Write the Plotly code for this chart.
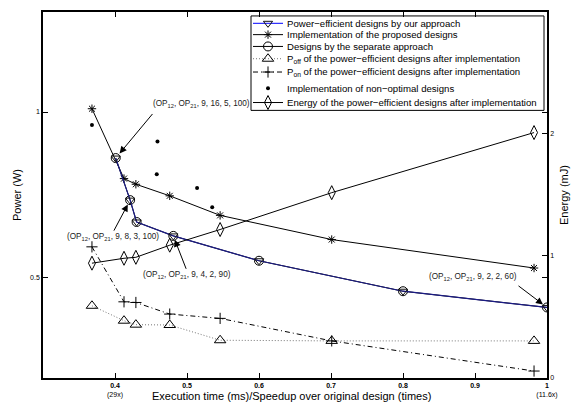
import plotly.graph_objects as go

# ---------------- data ----------------
# Power-efficient designs by our approach / designs by the separate approach
x_eff = [0.401, 0.421, 0.430, 0.481, 0.600, 0.800, 1.000]
p_eff = [0.861, 0.734, 0.668, 0.626, 0.551, 0.459, 0.410]
x_sep = [0.401, 0.421, 0.430, 0.481, 0.600, 0.800, 1.000]
p_sep = [0.861, 0.734, 0.668, 0.626, 0.551, 0.459, 0.410]

# Implementation of the proposed designs (and its components)
x_impl = [0.368, 0.4125, 0.429, 0.476, 0.546, 0.701, 0.982]
p_impl = [1.010, 0.799, 0.782, 0.747, 0.688, 0.615, 0.529]
p_off = [0.415, 0.370, 0.358, 0.357, 0.311, 0.309, 0.309]
p_on = [0.593, 0.427, 0.425, 0.390, 0.377, 0.309, 0.218]
energy = [0.938, 0.978, 0.986, 1.085, 1.213, 1.514, 2.005]

# Implementation of non-optimal designs
x_nonopt = [0.368, 0.459, 0.458, 0.514, 0.535]
p_nonopt = [0.961, 0.911, 0.812, 0.771, 0.7125]

x_ticks = [0.4, 0.5, 0.6, 0.7, 0.8, 0.9, 1.0]
x_ticklabels = ["<b>0.4</b><br>(29x)", "<b>0.5</b>", "<b>0.6</b>", "<b>0.7</b>",
                "<b>0.8</b>", "<b>0.9</b>", "<b>1</b><br>(11.6x)"]
p_ticks = [0.5, 1]
p_ticklabels = ["0.5", "1"]
e_ticks = [0, 1, 2, 3]
e_ticklabels = ["0", "1", "2", "3"]

# annotated design points
ann_x = [0.401, 0.421, 0.481, 1.000]
ann_p = [0.861, 0.734, 0.626, 0.410]
ann_labels = ["(OP<sub>12</sub>, OP<sub>21</sub>, 9, 16, 5, 100)",
              "(OP<sub>12</sub>, OP<sub>21</sub>, 9, 8, 3, 100)",
              "(OP<sub>12</sub>, OP<sub>21</sub>, 9, 4, 2, 90)",
              "(OP<sub>12</sub>, OP<sub>21</sub>, 9, 2, 2, 60)"]

legend_labels = ["Power\u2212efficient designs by our approach",
                 "Implementation of the proposed designs",
                 "Designs by the separate approach",
                 "P<sub>off</sub> of the power\u2212efficient designs after implementation",
                 "P<sub>on</sub> of the power\u2212efficient designs after implementation",
                 "Implementation of non\u2212optimal designs",
                 "Energy of the power\u2212efficient designs after implementation"]

# ---------------- styles ----------------
FONT = "Liberation Sans, Arial, Helvetica, sans-serif"
NAVY = "#1c1c86"
BLUE = "#0000ff"

styles = [
    dict(line=dict(color=BLUE, width=1), marker=dict(symbol="triangle-down-open", size=8, color="#111", line=dict(width=1))),
    dict(line=dict(color="black", width=1), marker=dict(symbol="asterisk-open", size=7, color="black", line=dict(width=1, color="black"))),
    dict(line=dict(color="black", width=1), marker=dict(symbol="circle-open", size=9, color="black", line=dict(width=1))),
    dict(line=dict(color="#777", width=1, dash="1px,2px"), marker=dict(symbol="triangle-up-open", size=10, color="black", line=dict(width=1))),
    dict(line=dict(color="black", width=1, dash="5px,3px,1px,3px"), marker=dict(symbol="cross-thin-open", size=8, color="black", line=dict(width=1, color="black"))),
    dict(line=None, marker=dict(symbol="circle", size=4, color="black")),
    dict(line=dict(color="black", width=1), marker=dict(symbol="diamond-tall-open", size=10, color="black", line=dict(width=1))),
]

fig = go.Figure()

# data traces
fig.add_trace(go.Scatter(x=x_impl, y=p_off, mode="lines+markers", line=styles[3]["line"],
                         marker=styles[3]["marker"], showlegend=False))
fig.add_trace(go.Scatter(x=x_impl, y=p_on, mode="lines+markers", line=styles[4]["line"],
                         marker=styles[4]["marker"], showlegend=False))
fig.add_trace(go.Scatter(x=x_impl, y=energy, yaxis="y2", mode="lines+markers", line=styles[6]["line"],
                         marker=styles[6]["marker"], showlegend=False))
fig.add_trace(go.Scatter(x=x_impl, y=p_impl, mode="lines+markers", line=styles[1]["line"],
                         marker=styles[1]["marker"], showlegend=False))
fig.add_trace(go.Scatter(x=x_sep, y=p_sep, mode="lines+markers", line=styles[2]["line"],
                         marker=styles[2]["marker"], showlegend=False))
fig.add_trace(go.Scatter(x=x_eff, y=p_eff, mode="lines+markers", line=dict(color=NAVY, width=1.2),
                         marker=styles[0]["marker"], showlegend=False))
fig.add_trace(go.Scatter(x=x_nonopt, y=p_nonopt, mode="markers", marker=styles[5]["marker"],
                         showlegend=False))

# ---------------- custom legend (pixel-like overlay axes) ----------------
LX0, LX1, LY0, LY1 = 251, 544, 14, 110
row_y = [21.5, 33, 45, 57.5, 71, 87.5, 102]
for i, lab in enumerate(legend_labels):
    st = styles[i]
    if st["line"] is not None:
        fig.add_trace(go.Scatter(x=[253, 283], y=[row_y[i], row_y[i]], mode="lines",
                                 line=st["line"], xaxis="x3", yaxis="y3", showlegend=False,
                                 hoverinfo="skip"))
    fig.add_trace(go.Scatter(x=[268], y=[row_y[i]], mode="markers", marker=st["marker"],
                             xaxis="x3", yaxis="y3", showlegend=False, hoverinfo="skip"))

annotations = []
for i, lab in enumerate(legend_labels):
    annotations.append(dict(x=285, y=row_y[i], xref="x3", yref="y3", text=lab, showarrow=False,
                            xanchor="left", yanchor="middle",
                            font=dict(family=FONT, size=9.6, color="black")))

# design-point labels and arrows
text_pos = [(201, 104), (112.5, 238.3), (186.7, 277.3), (472.5, 279.3)]
arrow_off = [(38, -45.6, 6), (-17, 32, 5), (13.4, 34.4, 4), (-30, -22.7, 5)]
for i in range(4):
    annotations.append(dict(x=text_pos[i][0], y=text_pos[i][1], xref="x3", yref="y3",
                            text=ann_labels[i], showarrow=False, xanchor="center", yanchor="middle",
                            font=dict(family=FONT, size=8.2, color="#222")))
    annotations.append(dict(x=ann_x[i], y=ann_p[i], xref="x", yref="y", text="", showarrow=True,
                            ax=arrow_off[i][0], ay=arrow_off[i][1], axref="pixel", ayref="pixel",
                            arrowhead=2, arrowsize=1.4, arrowwidth=1, arrowcolor="black",
                            standoff=arrow_off[i][2], font=dict(family=FONT, size=8)))

# axis titles
annotations.append(dict(x=0.494, y=0, xref="paper", yref="paper", yshift=-18, showarrow=False,
                        text="Execution time (ms)/Speedup over original design (times)",
                        xanchor="center", yanchor="middle", font=dict(family=FONT, size=11, color="black")))
annotations.append(dict(x=0, y=0.5, xref="paper", yref="paper", xshift=-26, showarrow=False,
                        text="Power (W)", textangle=-90, xanchor="center", yanchor="middle",
                        font=dict(family=FONT, size=11, color="black")))
annotations.append(dict(x=1, y=0.5, xref="paper", yref="paper", xshift=17, showarrow=False,
                        text="Energy (mJ)", textangle=-90, xanchor="center", yanchor="middle",
                        font=dict(family=FONT, size=11, color="black")))

shapes = [dict(type="rect", xref="x3", yref="y3", x0=LX0, x1=LX1, y0=LY0, y1=LY1,
               line=dict(color="black", width=1), fillcolor="white", layer="below")]

tickfont = dict(family=FONT, size=7, color="black")
fig.update_layout(
    width=577, height=409,
    margin=dict(l=43, r=30, t=10, b=27),
    paper_bgcolor="white", plot_bgcolor="white",
    showlegend=False,
    font=dict(family=FONT, size=8, color="black"),
    xaxis=dict(range=[0.3, 1.0], tickvals=x_ticks, ticktext=x_ticklabels, ticks="inside",
               ticklen=5, tickwidth=1, tickcolor="black", showline=True, linecolor="black",
               linewidth=1.5, mirror="ticks", showgrid=False, zeroline=False, tickfont=tickfont),
    yaxis=dict(range=[0.197, 1.302], tickvals=p_ticks, ticktext=p_ticklabels, ticks="inside",
               ticklen=5, tickwidth=1, tickcolor="black", showline=True, linecolor="black",
               linewidth=1.5, mirror="ticks", showgrid=False, zeroline=False, tickfont=tickfont),
    yaxis2=dict(range=[0, 2.99], tickvals=e_ticks, ticktext=e_ticklabels, overlaying="y",
                side="right", ticks="inside", ticklen=5, tickwidth=1, tickcolor="black",
                showline=True, linecolor="black", linewidth=1.5, showgrid=False, zeroline=False,
                tickfont=tickfont),
    xaxis3=dict(range=[43, 547], overlaying="x", anchor="y3", visible=False),
    yaxis3=dict(range=[382, 10], overlaying="y", anchor="x3", visible=False),
    annotations=annotations,
    shapes=shapes,
)

fig.write_html("out.html")
